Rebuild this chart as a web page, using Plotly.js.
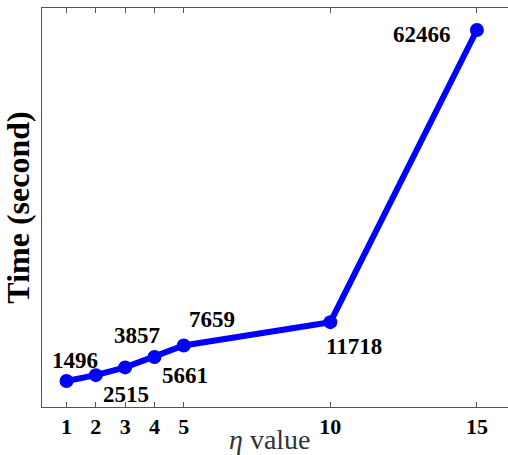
<!DOCTYPE html>
<html>
<head>
<meta charset="utf-8">
<script src="https://cdn.plot.ly/plotly-3.0.1.min.js"></script>
<style>html,body{margin:0;padding:0;background:#fff;}#chart{width:508px;height:455px;}</style>
</head>
<body>
<div id="chart"></div>
<script>
const etaValues = [1, 2, 3, 4, 5, 10, 15];
const timeSeconds = [1496, 2515, 3857, 5661, 7659, 11718, 62466];
const tickLabels = ['1', '2', '3', '4', '5', '10', '15'];
const labelShiftX = [8, 30, 12, 31, 28, 24, -55];
const labelShiftY = [21, -19, 32, -18, 26, -24, -4];

const serif = 'Liberation Serif';

const annotations = etaValues.map((x, i) => ({
  x: x, y: timeSeconds[i], xref: 'x', yref: 'y',
  text: String(timeSeconds[i]), showarrow: false,
  xshift: labelShiftX[i], yshift: labelShiftY[i],
  font: {family: serif, size: 23, color: '#000', weight: 'bold'}
}));
annotations.push({
  xref: 'paper', yref: 'paper', x: 0.489, y: -0.123, yanchor: 'bottom',
  borderpad: 0,
  text: '<i>η</i> value', showarrow: false,
  font: {family: serif, size: 28, color: '#333'}
});

const trace = {
  x: etaValues, y: timeSeconds, type: 'scatter', mode: 'lines+markers',
  line: {color: '#0000ff', width: 6},
  marker: {color: '#0000ff', size: 14},
  hoverinfo: 'none'
};

const layout = {
  width: 508, height: 455,
  margin: {l: 42, r: 0, t: 8, b: 48},
  paper_bgcolor: '#fff', plot_bgcolor: '#fff',
  showlegend: false,
  xaxis: {
    range: [0.164, 16.06],
    tickmode: 'array', tickvals: etaValues, ticktext: tickLabels,
    ticks: 'inside', ticklen: 5, tickcolor: '#555', tickwidth: 1,
    showline: true, linecolor: '#555', linewidth: 1, mirror: 'ticks',
    showgrid: false, zeroline: false,
    tickfont: {family: serif, size: 22, color: '#000', weight: 'bold'}
  },
  yaxis: {
    range: [-3020, 66290],
    showticklabels: false, ticks: '',
    showline: true, linecolor: '#555', linewidth: 1, mirror: false,
    showgrid: false, zeroline: false,
    title: {text: 'Time (second)', standoff: 3,
            font: {family: serif, size: 32, color: '#000', weight: 'bold'}}
  },
  annotations: annotations
};

Plotly.newPlot('chart', [trace], layout, {staticPlot: true, displayModeBar: false});
</script>
</body>
</html>
